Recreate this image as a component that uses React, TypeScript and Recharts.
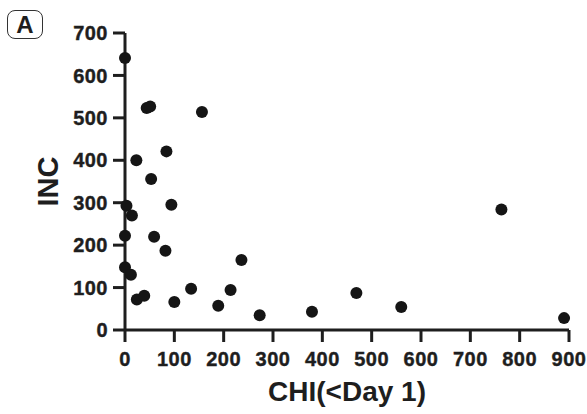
import { ScatterChart, Scatter, XAxis, YAxis, Label } from 'recharts';

const chiValues = [0, 44, 51, 156, 84, 23, 53, 3, 14, 94, 0, 59, 82, 236, 0, 12, 24, 39, 100, 134, 189, 214, 273, 379, 469, 560, 763, 890];
const incValues = [641, 523, 527, 514, 421, 400, 356, 293, 270, 295, 222, 220, 187, 165, 148, 130, 72, 81, 66, 97, 57, 94, 35, 43, 87, 54, 284, 28];
const xTicks = [0, 100, 200, 300, 400, 500, 600, 700, 800, 900];
const yTicks = [0, 100, 200, 300, 400, 500, 600, 700];

const points = chiValues.map((chi, i) => ({ chi, inc: incValues[i] }));

const FONT = '"Liberation Sans", Arial, Helvetica, sans-serif';
const INK = '#1e1e1e';

const Dot = (props: any) => <circle cx={props.cx} cy={props.cy} r={6} fill="#151515" />;

export default function App() {
    const tickStyle = {
        fill: INK,
        stroke: INK,
        strokeWidth: 0.4,
        fontSize: 20,
        fontWeight: 700,
        fontFamily: FONT,
        letterSpacing: 0.5,
    };
    return (
        <div style={{ position: 'absolute', left: 0, top: 0, width: 587, height: 414, background: '#fff' }}>
            <div
                style={{
                    position: 'absolute',
                    left: 7,
                    top: 10,
                    width: 34,
                    height: 27,
                    border: '1.3px solid #333',
                    borderRadius: 8,
                    fontFamily: FONT,
                    fontWeight: 700,
                    fontSize: 24,
                    color: INK,
                    display: 'flex',
                    alignItems: 'center',
                    justifyContent: 'center',
                }}
            >
                A
            </div>
            <ScatterChart width={587} height={414} margin={{ top: 33, right: 18, bottom: 0, left: 0 }}>
                <XAxis
                    type="number"
                    dataKey="chi"
                    domain={[0, 900]}
                    ticks={xTicks}
                    interval={0}
                    height={84}
                    tickSize={12}
                    tickMargin={10}
                    stroke={INK}
                    strokeWidth={3}
                    tick={tickStyle}
                >
                    <Label
                        content={({ viewBox }: any) => (
                            <text
                                x={viewBox.x + viewBox.width / 2}
                                y={401}
                                textAnchor="middle"
                                fill={INK}
                                fontSize={28}
                                fontWeight={700}
                                fontFamily={FONT}
                            >
                                CHI(&lt;Day 1)
                            </text>
                        )}
                    />
                </XAxis>
                <YAxis
                    type="number"
                    dataKey="inc"
                    domain={[0, 700]}
                    ticks={yTicks}
                    interval={0}
                    width={125}
                    tickSize={12}
                    tickMargin={5}
                    stroke={INK}
                    strokeWidth={3}
                    tick={tickStyle}
                >
                    <Label
                        content={({ viewBox }: any) => {
                            const cy = viewBox.y + viewBox.height / 2;
                            return (
                                <text
                                    x={48}
                                    y={cy}
                                    transform={`rotate(-90 48 ${cy})`}
                                    textAnchor="middle"
                                    dominantBaseline="central"
                                    fill={INK}
                                    fontSize={29}
                                    fontWeight={700}
                                    fontFamily={FONT}
                                >
                                    INC
                                </text>
                            );
                        }}
                    />
                </YAxis>
                <Scatter data={points} shape={Dot} isAnimationActive={false} />
            </ScatterChart>
        </div>
    );
}
